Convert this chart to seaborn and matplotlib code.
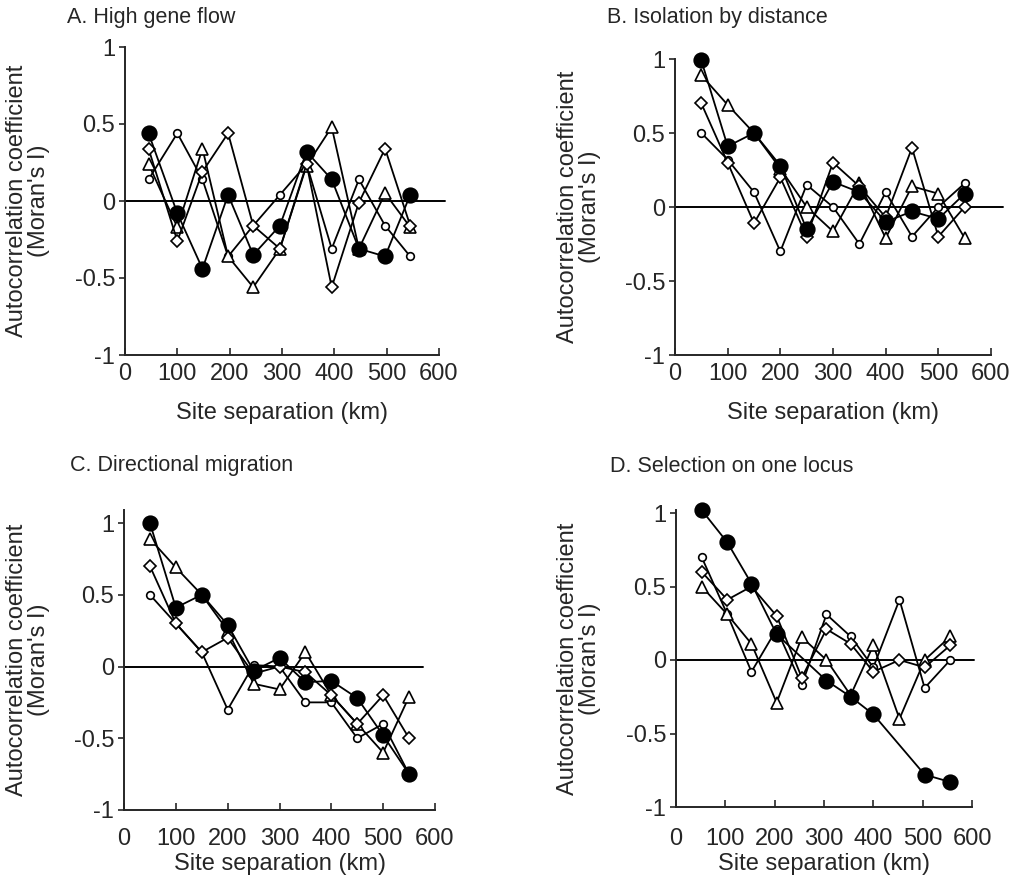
import numpy as np
import matplotlib
matplotlib.use("Agg")
import matplotlib.pyplot as plt
import pandas as pd
import seaborn as sns

# distance classes (km) as plotted in each panel
x_a = [45, 100, 148, 197, 245, 296, 347, 395, 447, 497, 545]
x_b = [50, 100, 150, 200, 250, 300, 350, 400, 450, 500, 550]
x_c = [50, 100, 150, 200, 250, 300, 350, 400, 450, 500, 550]
x_d = [52, 104, 153, 204, 255, 305, 354, 400, 453, 504, 556]
x_d_filled = [52, 104, 153, 204, 305, 354, 400, 504, 556]

# A. High gene flow
a_filled = [0.44, -0.08, -0.44, 0.04, -0.35, -0.16, 0.32, 0.14, -0.31, -0.36, 0.04]
a_circle = [0.14, 0.44, 0.14, -0.36, -0.16, 0.04, 0.24, -0.31, 0.14, -0.16, -0.36]
a_triangle = [0.24, -0.17, 0.34, -0.36, -0.56, -0.31, 0.23, 0.48, -0.31, 0.05, -0.17]
a_diamond = [0.34, -0.26, 0.19, 0.44, -0.16, -0.31, 0.24, -0.56, -0.01, 0.34, -0.16]

# B. Isolation by distance
b_filled = [0.99, 0.41, 0.50, 0.28, -0.15, 0.17, 0.10, -0.10, -0.03, -0.08, 0.09]
b_circle = [0.50, 0.32, 0.10, -0.30, 0.15, 0.0, -0.25, 0.10, -0.20, 0.0, 0.16]
b_triangle = [0.89, 0.69, 0.50, 0.26, 0.0, -0.165, 0.16, -0.21, 0.14, 0.09, -0.21]
b_diamond = [0.70, 0.30, -0.11, 0.20, -0.20, 0.30, 0.14, -0.07, 0.40, -0.20, 0.0]

# C. Directional migration
c_filled = [1.0, 0.41, 0.50, 0.29, -0.03, 0.06, -0.11, -0.10, -0.22, -0.48, -0.75]
c_circle = [0.50, 0.30, 0.10, -0.30, 0.01, 0.0, -0.25, -0.25, -0.50, -0.40, -0.75]
c_triangle = [0.89, 0.69, 0.50, 0.25, -0.12, -0.16, 0.10, -0.20, -0.40, -0.60, -0.21]
c_diamond = [0.70, 0.30, 0.10, 0.20, -0.05, 0.0, -0.04, -0.20, -0.40, -0.20, -0.50]

# D. Selection on one locus
d_filled = [1.02, 0.80, 0.52, 0.175, -0.14, -0.25, -0.37, -0.78, -0.83]
d_circle = [0.70, 0.31, -0.08, 0.21, -0.17, 0.31, 0.16, -0.05, 0.41, -0.19, 0.0]
d_triangle = [0.50, 0.31, 0.11, -0.29, 0.155, 0.0, -0.24, 0.10, -0.40, 0.0, 0.16]
d_diamond = [0.60, 0.41, 0.50, 0.30, -0.12, 0.21, 0.11, -0.08, 0.0, -0.05, 0.10]

titles = ["A. High gene flow", "B. Isolation by distance",
          "C. Directional migration", "D. Selection on one locus"]

sns.set_style("ticks")
plt.rcParams['font.family'] = ['Liberation Sans', 'DejaVu Sans']
plt.rcParams['font.size'] = 17

W, H = 1018, 877
fig = plt.figure(figsize=(W / 100, H / 100), dpi=100)


def make_ax(x0, x600, y1, ym1, ytop):
    # pixel positions of x=0, x=600, y=1, y=-1 -> axes rect
    unit = (ym1 - y1) / 2.0
    top_px = y1 - (ytop - 1) * unit
    return fig.add_axes([x0 / W, (H - ym1) / H, (x600 - x0) / W, (ym1 - top_px) / H]), ytop


styles = [
    dict(marker="o", ms=5.5, mfc="white"),   # open small circle
    dict(marker="^", ms=8.5, mfc="white"),   # open triangle
    dict(marker="D", ms=6, mfc="white"),     # open diamond
    dict(marker="o", ms=10.5, mfc="black"),  # filled circle
]

panels = [
    (make_ax(125, 439, 47, 355, 1.0), [(x_a, a_circle), (x_a, a_triangle), (x_a, a_diamond), (x_a, a_filled)], 612),
    (make_ax(675, 991, 59, 355, 1.0), [(x_b, b_circle), (x_b, b_triangle), (x_b, b_diamond), (x_b, b_filled)], 622),
    (make_ax(124, 435, 523, 810, 1.09), [(x_c, c_circle), (x_c, c_triangle), (x_c, c_diamond), (x_c, c_filled)], 577),
    (make_ax(676, 972, 513, 807, 1.02), [(x_d, d_circle), (x_d, d_triangle), (x_d, d_diamond), (x_d_filled, d_filled)], 605),
]

title_pos = [(67, 17), (607, 17), (70, 466), (610, 466)]
ylabel_x = [50, 601, 50, 601]
xtick_pad = [6, 6, 13, 15]
xlabel_pad = [12, 12, 2, 2]

for i, ((ax, ytop), series, zero_end) in enumerate(panels):
    ax.plot([0, zero_end], [0, 0], color="black", lw=1.4, clip_on=False, zorder=1)
    for (xs, ys), st in zip(series, styles):
        sns.lineplot(x=xs, y=ys, ax=ax, sort=False, errorbar=None, color="black",
                     lw=1.3, mec="black", mew=1.2, zorder=3, clip_on=False, **st)
    ax.set_xlim(0, 600)
    ax.set_ylim(-1, ytop)
    ax.set_xticks([0, 100, 200, 300, 400, 500, 600])
    ax.set_yticks([-1, -0.5, 0, 0.5, 1])
    ax.set_yticklabels(["-1", "-0.5", "0", "0.5", "1"])
    ax.tick_params(axis="x", direction="in", length=5, width=1.2, pad=xtick_pad[i], labelsize=17)
    ax.tick_params(axis="y", direction="out", length=4, width=1.2, pad=3, labelsize=17)
    sns.despine(ax=ax)
    for s in ["left", "bottom"]:
        ax.spines[s].set_linewidth(1.4)
    ax.set_xlabel("Site separation (km)", fontsize=17, labelpad=xlabel_pad[i])
    ax.set_ylabel("Autocorrelation coefficient\n(Moran's I)", fontsize=17, linespacing=1.0)
    bb = ax.get_position()
    ax.yaxis.set_label_coords((ylabel_x[i] / W - bb.x0) / bb.width, 0.5)
    tx, ty = title_pos[i]
    fig.text(tx / W, 1 - ty / H, titles[i], fontsize=15.5, va="center", ha="left")

fig.savefig("out.png", dpi=100)
